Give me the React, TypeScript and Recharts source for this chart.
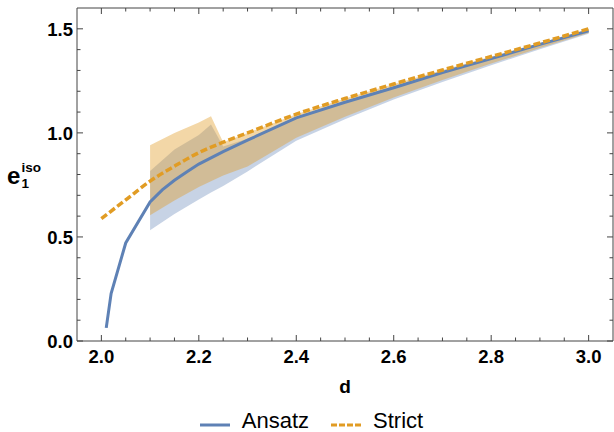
import { ComposedChart, Line, Area, XAxis, YAxis, Legend, Label } from 'recharts'

// Ansatz central curve
const ansatzD = [2.01, 2.02, 2.05, 2.1, 2.125, 2.15, 2.175, 2.2, 2.25, 2.3, 2.4, 2.5, 2.6, 2.7, 2.8, 2.9, 3.0]
const ansatzE = [0.063, 0.228, 0.471, 0.668, 0.726, 0.772, 0.812, 0.85, 0.91, 0.965, 1.072, 1.147, 1.217, 1.29, 1.357, 1.425, 1.49]

// Strict curve
const strictD = [2.0, 2.05, 2.1, 2.15, 2.2, 2.25, 2.3, 2.4, 2.5, 2.6, 2.7, 2.8, 2.9, 3.0]
const strictE = [0.588, 0.678, 0.768, 0.84, 0.905, 0.955, 1.0, 1.09, 1.165, 1.235, 1.302, 1.367, 1.432, 1.5]

// uncertainty bands (shared d grid)
const bandD = [2.1, 2.15, 2.2, 2.225, 2.25, 2.3, 2.4, 2.5, 2.6, 2.7, 2.8, 2.9, 3.0]
const ansatzLow = [0.532, 0.61, 0.68, 0.713, 0.745, 0.815, 0.962, 1.065, 1.16, 1.245, 1.325, 1.402, 1.476]
const ansatzHigh = [0.817, 0.92, 0.99, 1.04, 0.935, 0.972, 1.076, 1.152, 1.222, 1.293, 1.36, 1.428, 1.492]
const strictLow = [0.604, 0.675, 0.74, 0.768, 0.795, 0.838, 0.976, 1.078, 1.17, 1.254, 1.333, 1.408, 1.48]
const strictHigh = [0.94, 1.0, 1.05, 1.08, 0.955, 1.0, 1.09, 1.165, 1.235, 1.302, 1.367, 1.432, 1.5]

const xTicks = [2.0, 2.05, 2.1, 2.15, 2.2, 2.25, 2.3, 2.35, 2.4, 2.45, 2.5, 2.55, 2.6, 2.65, 2.7, 2.75, 2.8, 2.85, 2.9, 2.95, 3.0]
const yTicks = [0, 0.1, 0.2, 0.3, 0.4, 0.5, 0.6, 0.7, 0.8, 0.9, 1.0, 1.1, 1.2, 1.3, 1.4, 1.5]

const legendItems = [
  { name: 'Ansatz', color: '#5E81B5', dashed: false },
  { name: 'Strict', color: '#E19C24', dashed: true },
]

const ansatzLine = ansatzD.map((d, i) => ({ d, e: ansatzE[i] }))
const strictLine = strictD.map((d, i) => ({ d, e: strictE[i] }))
const ansatzBand = bandD.map((d, i) => ({ d, range: [ansatzLow[i], ansatzHigh[i]] }))
const strictBand = bandD.map((d, i) => ({ d, range: [strictLow[i], strictHigh[i]] }))

const FONT = '"Liberation Sans", Arial, Helvetica, sans-serif'
const FRAME = '#444'
const BLUE = '#5E81B5'
const ORANGE = '#E19C24'

const isMajor = (v: number, step: number) => Math.abs(v / step - Math.round(v / step)) < 1e-6

function BottomTick({ x, y, payload }: any) {
  const major = isMajor(payload.value, 0.2)
  return (
    <g>
      <line x1={x} x2={x} y1={y} y2={y - (major ? 6 : 3.5)} stroke={FRAME} />
      {major && (
        <text x={x} y={y + 22} textAnchor="middle" fontSize={18.5} fontWeight="bold" fill="#000" fontFamily={FONT}>
          {payload.value.toFixed(1)}
        </text>
      )}
    </g>
  )
}

function TopTick({ x, y, payload }: any) {
  const major = isMajor(payload.value, 0.2)
  return <line x1={x} x2={x} y1={y} y2={y + (major ? 6 : 3.5)} stroke={FRAME} />
}

function LeftTick({ x, y, payload }: any) {
  const major = isMajor(payload.value, 0.5)
  return (
    <g>
      <line x1={x} x2={x + (major ? 6 : 3.5)} y1={y} y2={y} stroke={FRAME} />
      {major && (
        <text x={x - 4} y={y + 6.8} textAnchor="end" fontSize={18.5} fontWeight="bold" fill="#000" fontFamily={FONT}>
          {payload.value.toFixed(1)}
        </text>
      )}
    </g>
  )
}

function RightTick({ x, y, payload }: any) {
  const major = isMajor(payload.value, 0.5)
  return <line x1={x} x2={x - (major ? 6 : 3.5)} y1={y} y2={y} stroke={FRAME} />
}

function YTitle({ viewBox }: any) {
  const cy = viewBox.y + viewBox.height / 2
  return (
    <text fontFamily={FONT} fontWeight="bold" fill="#000">
      <tspan x={viewBox.x + 7} y={cy + 9} fontSize={24}>e</tspan>
      <tspan x={viewBox.x + 21.5} y={cy + 13.5} fontSize={13.5}>1</tspan>
      <tspan x={viewBox.x + 21.5} y={cy - 3} fontSize={13.5}>iso</tspan>
    </text>
  )
}

function XTitle({ viewBox }: any) {
  return (
    <text x={viewBox.x + viewBox.width / 2} y={viewBox.y + 52} textAnchor="middle" fontFamily={FONT} fontWeight="bold" fontSize={19} fill="#000">
      d
    </text>
  )
}

function LegendBox() {
  return (
    <div style={{ height: 40, display: 'flex', justifyContent: 'center', alignItems: 'flex-start', paddingLeft: 9, boxSizing: 'border-box', paddingTop: 16, fontFamily: FONT, fontSize: 22, color: '#000', lineHeight: '25px' }}>
      {legendItems.map((it, i) => (
        <div key={it.name} style={{ display: 'flex', alignItems: 'flex-start', marginLeft: i ? 22 : 0 }}>
          <svg width={30} height={25} style={{ marginRight: 12 }}>
            <line x1={0} x2={30} y1={17} y2={17} stroke={it.color} strokeWidth={3} strokeDasharray={it.dashed ? '6 2' : undefined} />
          </svg>
          <span>{it.name}</span>
        </div>
      ))}
    </div>
  )
}

export default function App() {
  return (
    <div style={{ position: 'absolute', left: 0, top: 0, background: '#fff' }}>
      <ComposedChart width={614} height={432} margin={{ top: 7, right: 0, bottom: 0, left: 0 }}>
        <XAxis
          xAxisId={0}
          dataKey="d"
          type="number"
          domain={[1.95, 3.05]}
          ticks={xTicks}
          interval={0}
          allowDataOverflow
          height={51}
          tickSize={0}
          tickMargin={0}
          tickLine={false}
          axisLine={{ stroke: FRAME }}
          tick={<BottomTick />}
        >
          <Label content={<XTitle />} />
        </XAxis>
        <XAxis
          xAxisId="top"
          orientation="top"
          dataKey="d"
          type="number"
          domain={[1.95, 3.05]}
          ticks={xTicks}
          interval={0}
          allowDataOverflow
          height={1}
          tickSize={0}
          tickMargin={0}
          tickLine={false}
          axisLine={{ stroke: FRAME }}
          tick={<TopTick />}
        />
        <YAxis
          yAxisId={0}
          type="number"
          domain={[0, 1.6]}
          ticks={yTicks}
          interval={0}
          allowDataOverflow
          width={77}
          tickSize={0}
          tickMargin={0}
          tickLine={false}
          axisLine={{ stroke: FRAME }}
          tick={<LeftTick />}
        >
          <Label content={<YTitle />} />
        </YAxis>
        <YAxis
          yAxisId="right"
          orientation="right"
          type="number"
          domain={[0, 1.6]}
          ticks={yTicks}
          interval={0}
          allowDataOverflow
          width={1}
          tickSize={0}
          tickMargin={0}
          tickLine={false}
          axisLine={{ stroke: FRAME }}
          tick={<RightTick />}
        />
        <Area
          data={ansatzBand}
          dataKey="range"
          type="linear"
          stroke="none"
          fill={BLUE}
          fillOpacity={0.35}
          legendType="none"
          isAnimationActive={false}
        />
        <Area
          data={strictBand}
          dataKey="range"
          type="linear"
          stroke="none"
          fill={ORANGE}
          fillOpacity={0.4}
          legendType="none"
          isAnimationActive={false}
        />
        <Line
          data={ansatzLine}
          dataKey="e"
          type="linear"
          stroke={BLUE}
          strokeWidth={3}
          dot={false}
          activeDot={false}
          isAnimationActive={false}
        />
        <Line
          data={strictLine}
          dataKey="e"
          type="monotone"
          stroke={ORANGE}
          strokeWidth={3.5}
          strokeDasharray="7 3"
          dot={false}
          activeDot={false}
          isAnimationActive={false}
        />
        <Legend verticalAlign="bottom" content={<LegendBox />} />
      </ComposedChart>
    </div>
  )
}
